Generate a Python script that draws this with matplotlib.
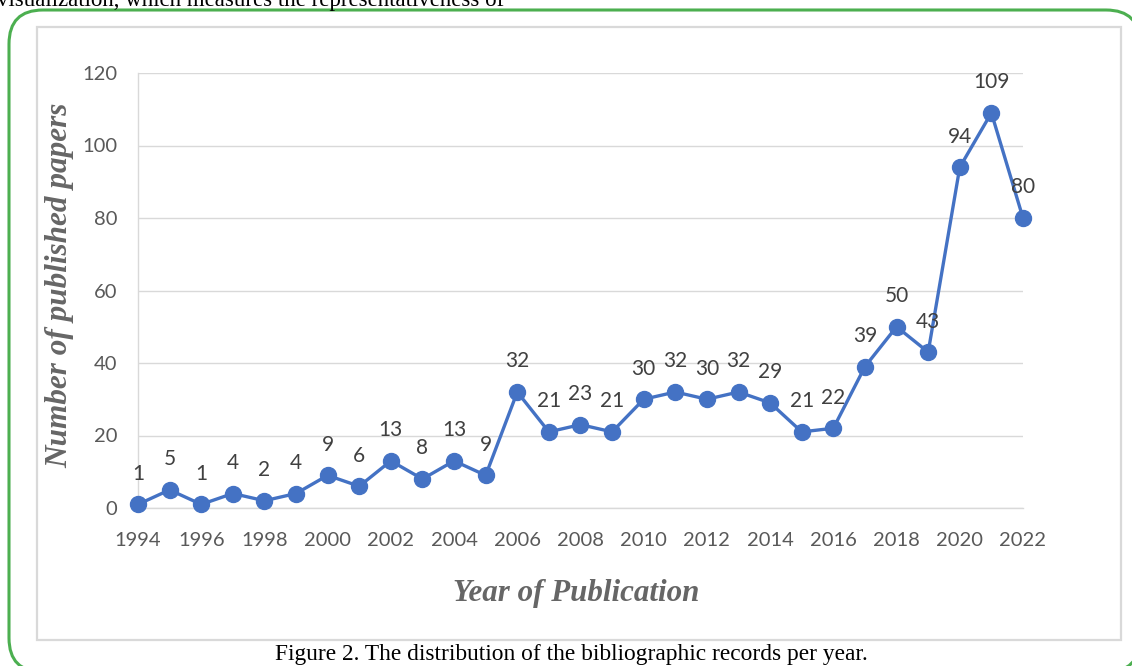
import matplotlib
matplotlib.use("Agg")
import matplotlib.pyplot as plt
from matplotlib.patches import FancyBboxPatch, Rectangle

years = list(range(1994, 2023))
papers = [1, 5, 1, 4, 2, 4, 9, 6, 13, 8, 13, 9, 32, 21, 23, 21, 30, 32, 30, 32,
          29, 21, 22, 39, 50, 43, 94, 109, 80]
x_ticks = list(range(1994, 2023, 2))
y_ticks = [0, 20, 40, 60, 80, 100, 120]

W, H = 1132, 666
fig = plt.figure(figsize=(W / 100, H / 100), dpi=100)
fig.patch.set_facecolor("white")

def fx(px):
    return px / W

def fy(py):
    return 1 - py / H

# green rounded border
green = FancyBboxPatch((fx(9), fy(672)), fx(1140) - fx(9), fy(10) - fy(672),
                       boxstyle="round,pad=0,rounding_size=0.03",
                       transform=fig.transFigure, facecolor="white",
                       edgecolor="#4caf50", linewidth=2.2, zorder=0,
                       mutation_aspect=W / H)
fig.patches.append(green)

# chart frame
frame = Rectangle((fx(37), fy(640)), fx(1121) - fx(37), fy(27) - fy(640),
                  transform=fig.transFigure, facecolor="white",
                  edgecolor="#d9d9d9", linewidth=1.6, zorder=1)
fig.patches.append(frame)

# cut text at top (cut off in the reference as well)
fig.text(fx(-3), fy(6), "visualization, which measures the representativeness of",
         family="Liberation Serif", fontsize=16.5, color="black",
         ha="left", va="baseline")

ax = fig.add_axes([fx(138), fy(508), fx(1023) - fx(138), fy(73) - fy(508)])
ax.set_facecolor("none")
ax.set_zorder(2)

ax.plot(years, papers, color="#4472c4", linewidth=2.4, marker="o",
        markersize=11.5, clip_on=False, zorder=3)

for xv, yv in zip(years, papers):
    ax.annotate(str(yv), (xv, yv), xytext=(0, 22), textcoords="offset points",
                ha="center", va="center", fontsize=15, family="Lato",
                color="#404040", zorder=4)

ax.set_xlim(1994, 2022)
ax.set_ylim(0, 120)
ax.set_xticks(x_ticks)
ax.set_xticklabels([str(t) for t in x_ticks])
ax.set_yticks(y_ticks)
ax.set_yticklabels([str(t) for t in y_ticks])
ax.grid(axis="y", color="#d9d9d9", linewidth=1.0)
ax.set_axisbelow(True)
for s in ["top", "right"]:
    ax.spines[s].set_visible(False)
for s in ["left", "bottom"]:
    ax.spines[s].set_color("#d9d9d9")
    ax.spines[s].set_linewidth(1.0)
ax.tick_params(axis="both", length=0, labelsize=14.5, labelcolor="#595959")
ax.tick_params(axis="x", pad=17)
ax.tick_params(axis="y", pad=15)
for lab in ax.get_xticklabels() + ax.get_yticklabels():
    lab.set_family("Lato")

fig.text(fx(60), fy(285), "Number of published papers", rotation=90,
         family="Liberation Serif", fontsize=22.5, fontweight="bold",
         fontstyle="italic", color="#666666", ha="center", va="center")
fig.text(fx(576), fy(593), "Year of Publication",
         family="Liberation Serif", fontsize=22.3, fontweight="bold",
         fontstyle="italic", color="#666666", ha="center", va="center")

fig.text(fx(571), fy(660), "Figure 2. The distribution of the bibliographic records per year.",
         family="Liberation Serif", fontsize=16.8, color="black",
         ha="center", va="baseline")

fig.savefig("out.png", dpi=100, facecolor="white")
